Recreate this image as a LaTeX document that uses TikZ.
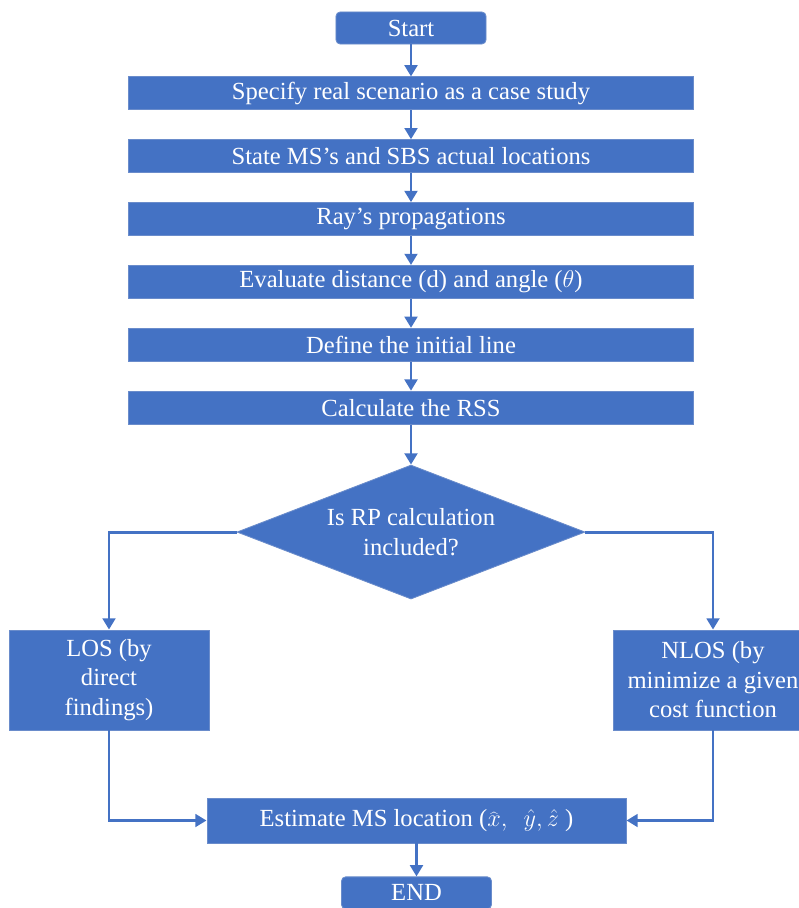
\documentclass[tikz,border=0pt]{standalone}
\usepackage{fontspec}
\setmainfont{Liberation Serif}
\usetikzlibrary{arrows.meta, positioning, shapes.geometric}
\definecolor{boxcol}{HTML}{4472C4}
\definecolor{edgecol}{HTML}{6A8CCB}

\begin{document}
\begin{tikzpicture}[
    x=0.025cm, y=-0.025cm,
    >=Stealth,
    every node/.style={font=\fontsize{17.5}{21}\selectfont, text=white},
    block/.style={
        draw=edgecol, fill=boxcol, minimum width=14.125cm, minimum height=0.825cm,
        text centered, inner sep=0pt, line width=0.6pt
    },
    terminal/.style={
        draw=edgecol, fill=boxcol, rounded corners=3pt, minimum width=3.75cm,
        minimum height=0.8cm, inner sep=0pt, line width=0.6pt
    },
    sideblock/.style={
        draw=edgecol, fill=boxcol, minimum width=5cm, minimum height=2.5cm,
        align=center, inner sep=0pt, line width=0.6pt
    },
    decision/.style={
        diamond, aspect=2.6, draw=edgecol, fill=boxcol, minimum width=8.7cm,
        minimum height=3.35cm, align=center, inner sep=0pt, line width=0.6pt
    },
    arrow/.style={-{Triangle[length=8pt,width=9pt]}, line width=2.1pt, color=boxcol},
]
\useasboundingbox (0,0) rectangle (799,908);

% ===== Main column =====
\node[terminal] (start) at (411,28) {Start};
\node[block, below=0.8cm of start] (scenario) {Specify real scenario as a case study};
\node[block, below=0.725cm of scenario] (locations) {State MS’s and SBS actual locations};
\node[block, below=0.725cm of locations] (rays) {Ray’s propagations};
\node[block, below=0.725cm of rays] (evaluate) {Evaluate distance (d) and angle ($\theta$)};
\node[block, below=0.725cm of evaluate] (initline) {Define the initial line};
\node[block, below=0.725cm of initline] (rss) {Calculate the RSS};

% ===== Decision =====
\node[decision, below=1.0cm of rss] (rpcheck) {Is RP calculation\\included?};

% ===== Two cases =====
\node[sideblock] (los) at (109,680) {LOS (by\\direct\\findings)};
\node[sideblock] (nlos) at (713,680) {NLOS (by\\minimize a given\\cost function};

% ===== Result =====
\node[block, minimum width=10.475cm, minimum height=1.125cm] (estimate) at (416.5,820.5)
     {Estimate MS location ($\widehat{x},\ \ \hat{y},\hat{z}\ $)};
\node[terminal, below=0.825cm of estimate] (finish) {END};

% ===== ARROWS =====
\draw[arrow] (start) -- (scenario);
\draw[arrow] (scenario) -- (locations);
\draw[arrow] (locations) -- (rays);
\draw[arrow] (rays) -- (evaluate);
\draw[arrow] (evaluate) -- (initline);
\draw[arrow] (initline) -- (rss);
\draw[arrow] (rss) -- (rpcheck);

\draw[arrow] (rpcheck.west) -| (los.north);
\draw[arrow] (rpcheck.east) -| (nlos.north);

\draw[arrow] (los.south) |- (estimate.west);
\draw[arrow] (nlos.south) |- (estimate.east);

\draw[arrow] (estimate) -- (finish);

\end{tikzpicture}
\end{document}
